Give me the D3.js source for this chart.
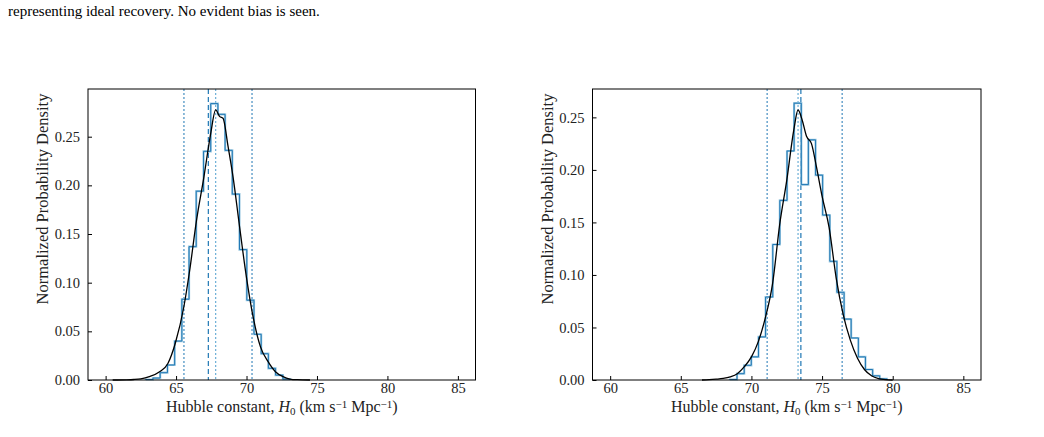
<!DOCTYPE html>
<html>
<head>
<meta charset="utf-8">
<script src="https://cdn.jsdelivr.net/npm/d3@7"></script>
<style>
  body { margin: 0; background: #fff; }
  text { font-family: "Liberation Serif", "DejaVu Serif", serif; fill: #222; }
</style>
</head>
<body>
<script>
// H0 posterior, left panel
var leftEdges = [62.85, 63.36, 63.87, 64.39, 64.90, 65.41, 65.92, 66.43, 66.95, 67.46, 67.97,
                 68.48, 68.99, 69.50, 70.02, 70.53, 71.04, 71.55, 72.06, 72.58, 73.09];
var leftDensity = [0.0005, 0.002, 0.0075, 0.0154, 0.040, 0.083, 0.137, 0.194, 0.235, 0.284,
                   0.273, 0.236, 0.191, 0.134, 0.082, 0.047, 0.027, 0.012, 0.005, 0.001];
var leftKdeX = [60.5, 61.5, 62, 62.5, 63.1, 63.83, 64.42, 64.95, 65.55, 65.97, 66.45, 66.98, 67.46,
                67.81, 68.1, 68.33, 68.69, 69.04, 69.52, 69.99, 70.51, 70.99, 71.53, 72.05, 72.59,
                73.07, 73.6, 74.5];
var leftKdeY = [0, 0.0002, 0.0005, 0.0012, 0.0034, 0.0085, 0.017, 0.038, 0.075, 0.113, 0.164, 0.209,
                0.2535, 0.2775, 0.2706, 0.269, 0.24, 0.209, 0.156, 0.106, 0.0617, 0.034, 0.0188,
                0.0085, 0.0034, 0.001, 0.0003, 0];
var leftLines = {lo: 65.56, truth: 67.29, median: 67.81, hi: 70.39};
var leftYMax = 0.299;

// right panel
var rightEdges = [68.47, 68.98, 69.49, 69.99, 70.50, 71.00, 71.51, 72.01, 72.52, 73.02, 73.53, 74.03,
                  74.54, 75.04, 75.55, 76.05, 76.56, 77.06, 77.57, 78.07, 78.58, 79.08, 79.59];
var rightDensity = [0.0005, 0.006, 0.014, 0.022, 0.041, 0.079, 0.129, 0.171, 0.218, 0.2635, 0.186,
                    0.2286, 0.195, 0.157, 0.113, 0.0835, 0.058, 0.040, 0.022, 0.010, 0.004, 0.001];
var rightKdeX = [66.5, 67, 67.5, 68, 68.5, 69, 69.5, 70, 70.5, 71, 71.5, 72, 72.5, 73, 73.3, 73.6,
                 73.9, 74.25, 74.6, 75, 75.5, 76, 76.5, 77, 77.5, 78, 78.5, 79, 79.5, 80];
var rightKdeY = [0, 0.0003, 0.0008, 0.0015, 0.003, 0.006, 0.0127, 0.022, 0.037, 0.06, 0.092, 0.148,
                 0.19, 0.238, 0.257, 0.247, 0.232, 0.225, 0.203, 0.175, 0.145, 0.097, 0.062, 0.038,
                 0.021, 0.01, 0.004, 0.0013, 0.0003, 0];
var rightLines = {lo: 71.11, median: 73.30, truth: 73.50, hi: 76.42};
var rightYMax = 0.277;

var xTicks = [60, 65, 70, 75, 80, 85];
var yTicks = [0, 0.05, 0.10, 0.15, 0.20, 0.25];
var xDomain = [58.75, 86.25];

var W = 1044, H = 437;
var blue = "#1f77b4";

var svg = d3.select("body").append("svg")
    .attr("width", W).attr("height", H);

svg.append("text")
    .attr("x", 8).attr("y", 16)
    .style("font-size", "15px").style("fill", "#000")
    .text("representing ideal recovery. No evident bias is seen.");

function drawPanel(left, right, edges, density, kx, ky, lines, yMax) {
    var top = 89, bottom = 380;
    var x = d3.scaleLinear().domain(xDomain).range([left, right]);
    var y = d3.scaleLinear().domain([0, yMax]).range([bottom, top]);
    var g = svg.append("g");

    // vertical markers
    [["lo", "2,2", blue, 1], ["hi", "2,2", blue, 1], ["median", "2,2", "#6baed6", 1.2], ["truth", "5,3", blue, 1.2]]
        .forEach(function(s) {
            g.append("line")
                .attr("x1", x(lines[s[0]])).attr("x2", x(lines[s[0]]))
                .attr("y1", top).attr("y2", bottom)
                .attr("stroke", s[2]).attr("stroke-width", s[3])
                .attr("stroke-dasharray", s[1]);
        });

    // step histogram
    var pts = [[edges[0], 0]];
    density.forEach(function(d, i) {
        pts.push([edges[i], d]);
        pts.push([edges[i + 1], d]);
    });
    pts.push([edges[edges.length - 1], 0]);
    var step = d3.line().x(function(d) { return x(d[0]); }).y(function(d) { return y(d[1]); });
    g.append("path").attr("d", step(pts))
        .attr("fill", "none").attr("stroke", "#9ecae1").attr("stroke-width", 2.2);
    g.append("path").attr("d", step(pts))
        .attr("fill", "none").attr("stroke", blue).attr("stroke-width", 1);

    // kde
    var kde = d3.line()
        .x(function(d, i) { return x(kx[i]); })
        .y(function(d) { return y(d); })
        .curve(d3.curveMonotoneX);
    g.append("path").attr("d", kde(ky))
        .attr("fill", "none").attr("stroke", "#000").attr("stroke-width", 1.3);

    // frame
    g.append("rect")
        .attr("x", left).attr("y", top)
        .attr("width", right - left).attr("height", bottom - top)
        .attr("fill", "none").attr("stroke", "#000").attr("stroke-width", 1);

    var xAxis = d3.axisBottom(x).tickValues(xTicks).tickSizeInner(-4).tickSizeOuter(0)
        .tickPadding(3).tickFormat(d3.format("d"));
    var xg = g.append("g").attr("transform", "translate(0," + bottom + ")").call(xAxis);
    var yAxis = d3.axisLeft(y).tickValues(yTicks).tickSizeInner(-4).tickSizeOuter(0)
        .tickPadding(8).tickFormat(d3.format(".2f"));
    var yg = g.append("g").attr("transform", "translate(" + left + ",0)").call(yAxis);
    [xg, yg].forEach(function(a) {
        a.attr("font-size", null).attr("font-family", null);
        a.select(".domain").remove();
        a.selectAll("line").attr("stroke", "#000");
        a.selectAll("text").style("font-size", "14.5px").attr("fill", "#222");
    });

    var xl = g.append("text")
        .attr("x", (left + right) / 2).attr("y", 412)
        .attr("text-anchor", "middle").style("font-size", "16px");
    xl.append("tspan").text("Hubble constant, ");
    xl.append("tspan").style("font-style", "italic").text("H");
    xl.append("tspan").attr("baseline-shift", "-25%").style("font-size", "11px").text("0");
    xl.append("tspan").text(" (km s");
    xl.append("tspan").attr("baseline-shift", "40%").style("font-size", "11px").text("\u22121");
    xl.append("tspan").text(" Mpc");
    xl.append("tspan").attr("baseline-shift", "40%").style("font-size", "11px").text("\u22121");
    xl.append("tspan").text(")");

    g.append("text")
        .attr("transform", "translate(" + (left - 40) + ",199) rotate(-90)")
        .attr("text-anchor", "middle").style("font-size", "16.5px")
        .text("Normalized Probability Density");
}

drawPanel(88, 475.5, leftEdges, leftDensity, leftKdeX, leftKdeY, leftLines, leftYMax);
drawPanel(592.5, 981, rightEdges, rightDensity, rightKdeX, rightKdeY, rightLines, rightYMax);
</script>
</body>
</html>
